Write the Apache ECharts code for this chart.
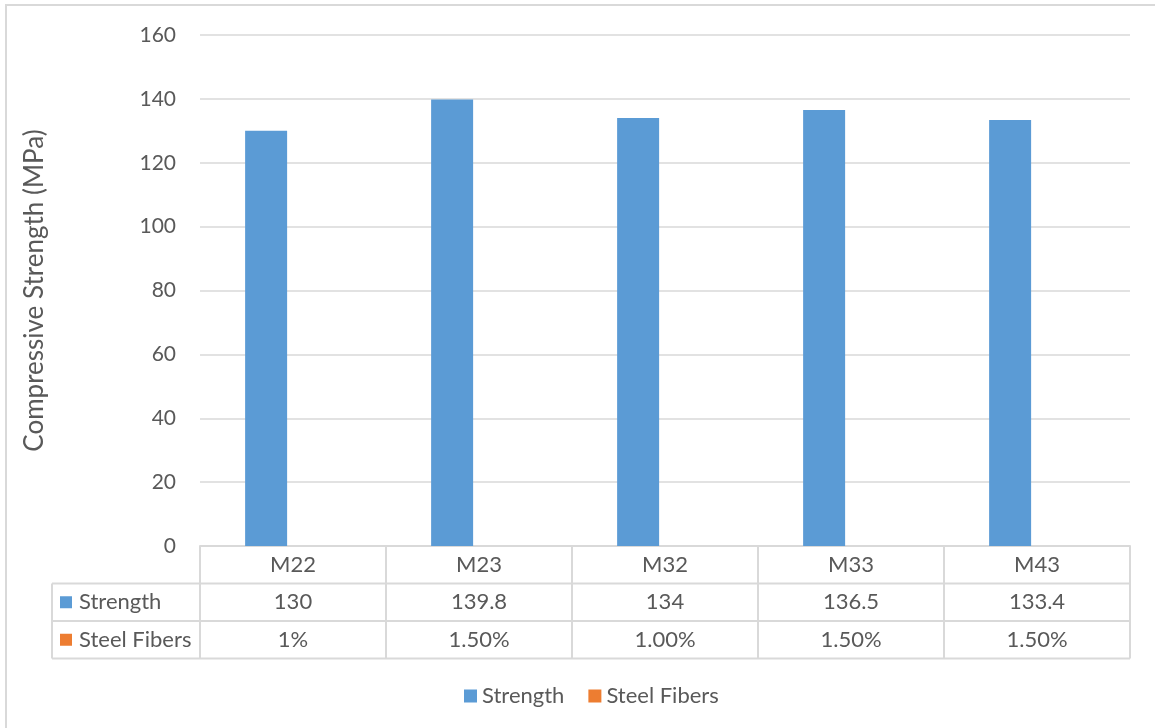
<!DOCTYPE html>
<html>
<head>
<meta charset="utf-8">
<script src="https://cdn.jsdelivr.net/npm/echarts@6/dist/echarts.min.js"></script>
<style>
  html, body { margin: 0; padding: 0; background: #fff; }
  #chart { width: 1155px; height: 728px; }
</style>
</head>
<body>
<div id="chart"></div>
<script>
// Mix designs and their measured values
const categories = ['M22', 'M23', 'M32', 'M33', 'M43'];
const strength = [130, 139.8, 134, 136.5, 133.4];
const steelFibers = [0.01, 0.015, 0.01, 0.015, 0.015];
const steelFiberLabels = ['1%', '1.50%', '1.00%', '1.50%', '1.50%'];
const yTicks = { min: 0, max: 160, interval: 20 };

const FONT = 'Lato, "Open Sans", sans-serif';
const FS = 21;      // axis tick labels
const FS_T = 22;    // table and legend text
const TEXT = '#595959';
const LINE = '#D9D9D9';
const BLUE = '#5B9BD5';
const ORANGE = '#ED7D31';

// Plot area and data table geometry
const G = { left: 200, right: 1130, top: 35, bottom: 546 };
const ROW = 37.5;           // table row height
const TABLE_LEFT = 52;

const chart = echarts.init(document.getElementById('chart'), null, { renderer: 'canvas' });

const rowAxis = (data, row) => ({
  type: 'category',
  data: data,
  position: 'bottom',
  gridIndex: 0,
  axisLine: { show: false },
  axisTick: { show: false },
  axisLabel: {
    interval: 0,
    margin: ROW * row + ROW / 2,
    verticalAlign: 'middle',
    color: TEXT, fontSize: FS_T, fontFamily: FONT
  }
});

const hLine = (x1, x2, y) => ({
  type: 'line', silent: true,
  shape: { x1: x1, y1: y, x2: x2, y2: y },
  style: { stroke: LINE, lineWidth: 2 }
});
const vLine = (x, y1, y2) => ({
  type: 'line', silent: true,
  shape: { x1: x, y1: y1, x2: x, y2: y2 },
  style: { stroke: LINE, lineWidth: 2 }
});
const rowLabel = (name, color, row) => {
  const cy = G.bottom + ROW * row + ROW / 2;
  return [
    { type: 'rect', silent: true, shape: { x: 60, y: cy - 6, width: 12, height: 12 }, style: { fill: color } },
    { type: 'text', silent: true, x: 79, y: cy,
      style: { text: name, fill: TEXT, font: FS_T + 'px ' + FONT, textVerticalAlign: 'middle' } }
  ];
};

const tableBottom = G.bottom + ROW * 3;

chart.setOption({
  animation: false,
  backgroundColor: '#fff',
  grid: { left: G.left, right: 1155 - G.right, top: G.top, bottom: 728 - G.bottom, containLabel: false },
  legend: {
    top: 680,
    left: 459,
    itemWidth: 13, itemHeight: 13, itemGap: 24,
    icon: 'rect',
    textStyle: { color: TEXT, fontSize: FS_T, fontFamily: FONT },
    data: ['Strength', 'Steel Fibers']
  },
  xAxis: [
    {
      type: 'category',
      data: categories,
      axisLine: { lineStyle: { color: LINE, width: 2 } },
      axisTick: { show: true, length: ROW * 3, lineStyle: { color: LINE, width: 2 } },
      axisLabel: {
        interval: 0, margin: ROW / 2, verticalAlign: 'middle',
        color: TEXT, fontSize: FS_T, fontFamily: FONT
      }
    },
    rowAxis(strength.map(String), 1),
    rowAxis(steelFiberLabels, 2)
  ],
  yAxis: {
    type: 'value',
    min: yTicks.min, max: yTicks.max, interval: yTicks.interval,
    name: 'Compressive Strength (MPa)',
    nameLocation: 'middle',
    nameGap: 152,
    nameRotate: 90,
    nameTextStyle: { color: TEXT, fontSize: 26, fontFamily: FONT },
    axisLine: { show: false },
    axisTick: { show: false },
    axisLabel: { margin: 24, color: TEXT, fontSize: FS, fontFamily: FONT },
    splitLine: { lineStyle: { color: LINE, width: 1.5 } }
  },
  series: [
    { name: 'Strength', type: 'bar', xAxisIndex: 0, data: strength,
      barWidth: 42, barGap: '28%', itemStyle: { color: BLUE } },
    { name: 'Steel Fibers', type: 'bar', xAxisIndex: 0, data: steelFibers,
      barWidth: 42, itemStyle: { color: ORANGE } }
  ],
  graphic: [
    // chart frame
    { type: 'rect', silent: true, shape: { x: 6, y: 5, width: 1200, height: 800 },
      style: { fill: null, stroke: LINE, lineWidth: 2 } },
    // data table rules
    hLine(TABLE_LEFT, G.right, G.bottom + ROW),
    hLine(TABLE_LEFT, G.right, G.bottom + ROW * 2),
    hLine(TABLE_LEFT, G.right, tableBottom),
    vLine(TABLE_LEFT, G.bottom + ROW, tableBottom),
    ...rowLabel('Strength', BLUE, 1),
    ...rowLabel('Steel Fibers', ORANGE, 2)
  ]
});
</script>
</body>
</html>
